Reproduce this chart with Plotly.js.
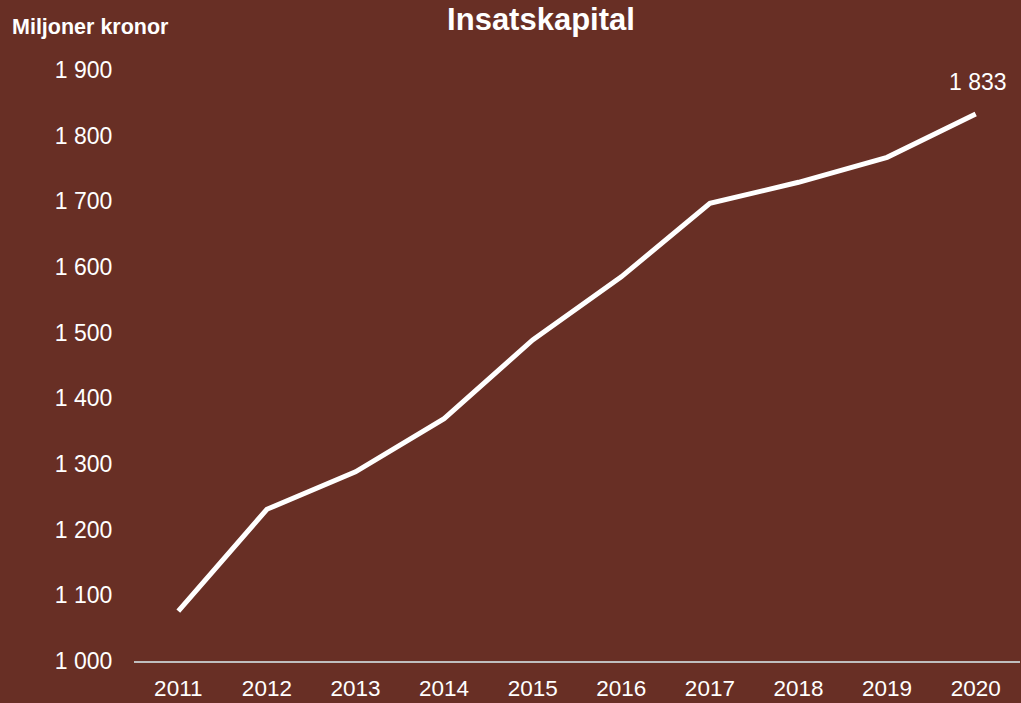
<!DOCTYPE html>
<html>
<head>
<meta charset="utf-8">
<script src="https://cdn.plot.ly/plotly-3.0.1.min.js"></script>
<style>html,body{margin:0;padding:0;background:#682F25;}#chart{width:1021px;height:703px;}</style>
</head>
<body>
<div id="chart"></div>
<script>
const years = ["2011","2012","2013","2014","2015","2016","2017","2018","2019","2020"];
const insatskapital = [1076, 1231, 1288, 1369, 1489, 1585, 1697, 1729, 1767, 1833];
const yTicks = [1000, 1100, 1200, 1300, 1400, 1500, 1600, 1700, 1800, 1900];
const chartTitle = "Insatskapital";
const unitLabel = "Miljoner kronor";

function fmt(v){ return String(v).replace(/\B(?=(\d{3})+(?!\d))/g, ' '); }

const bg = '#682F25';
const font = 'Liberation Sans, Arial, sans-serif';
const lastIdx = years.length - 1;

const trace = {
  x: years, y: insatskapital, type: 'scatter', mode: 'lines',
  line: {color: '#ffffff', width: 5, shape: 'linear'},
  hoverinfo: 'x+y'
};

const layout = {
  width: 1021, height: 703,
  paper_bgcolor: bg, plot_bgcolor: bg,
  margin: {l: 134, r: 1, t: 70, b: 42},
  separators: ', ',
  showlegend: false,
  font: {family: font, color: '#ffffff', size: 23},
  title: {text: '<b>' + chartTitle + '</b>', font: {family: font, size: 31, color: '#ffffff'},
          x: 541/1021, xanchor: 'center', xref: 'container', y: 1 - 19/703, yanchor: 'middle', yref: 'container'},
  xaxis: {type: 'category', range: [-0.5, years.length - 0.5], showline: true, linecolor: '#bfbfbf', linewidth: 2,
          showgrid: false, zeroline: false, ticks: 'outside', ticklen: 6, tickcolor: 'rgba(0,0,0,0)',
          tickfont: {family: font, size: 22.5, color: '#ffffff'}, fixedrange: true},
  yaxis: {range: [1000, 1900], tickvals: yTicks, ticktext: yTicks.map(fmt), showline: false, showgrid: false, zeroline: false,
          ticks: 'outside', ticklen: 16, tickcolor: 'rgba(0,0,0,0)',
          tickfont: {family: font, size: 23, color: '#ffffff'}, fixedrange: true},
  annotations: [
    {x: lastIdx, y: insatskapital[lastIdx], xref: 'x', yref: 'y', text: fmt(insatskapital[lastIdx]),
     showarrow: false, xanchor: 'center', yanchor: 'middle', xshift: 2, yshift: 32,
     font: {family: font, size: 23, color: '#ffffff'}},
    {x: -124/886, y: 1 + 43/591, xref: 'paper', yref: 'paper', text: '<b>' + unitLabel + '</b>',
     showarrow: false, xanchor: 'left', yanchor: 'middle', font: {family: font, size: 21.5, color: '#ffffff'}}
  ]
};

Plotly.newPlot('chart', [trace], layout, {displayModeBar: false, staticPlot: true});
</script>
</body>
</html>
